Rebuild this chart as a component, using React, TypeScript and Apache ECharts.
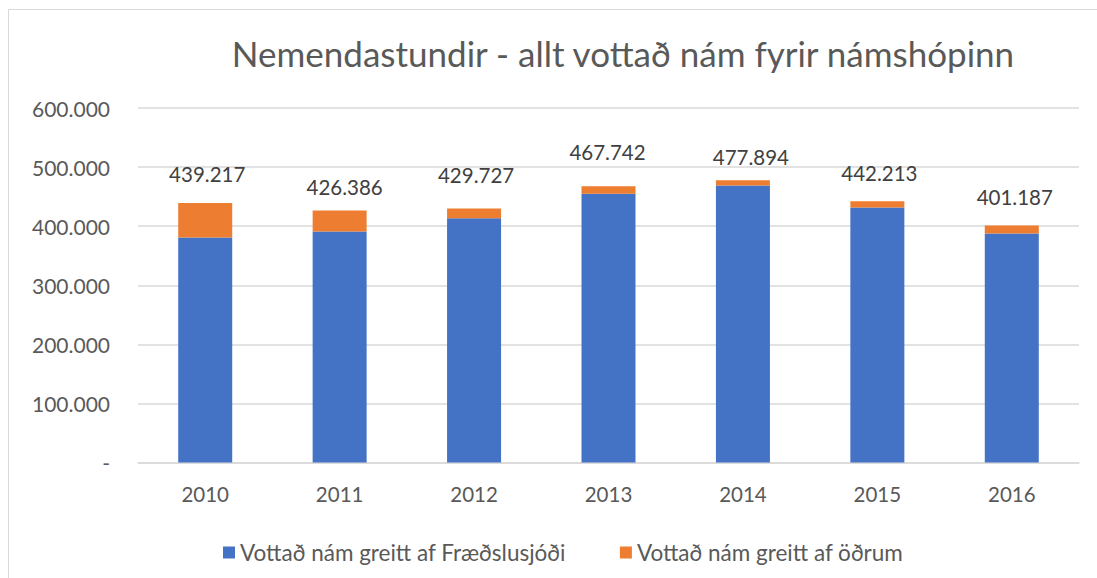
import React, { useEffect, useRef } from "react";
import * as echarts from "echarts";

const years = ["2010", "2011", "2012", "2013", "2014", "2015", "2016"];
const totals = [439217, 426386, 429727, 467742, 477894, 442213, 401187];
const fund = [380700, 390800, 413500, 454700, 468800, 431500, 387500];
const others = totals.map((t, i) => t - fund[i]);
const yTicks = [0, 100000, 200000, 300000, 400000, 500000, 600000];
const seriesNames = ["Vottað nám greitt af Fræðslusjóði", "Vottað nám greitt af öðrum"];
const titleText = "Nemendastundir - allt vottað nám fyrir námshópinn";

// label nudges (layout only)
const labelNudge = [
  [2, -18],
  [5, -13],
  [2, -23],
  [-1, -24],
  [8, -13],
  [2, -18],
  [3, -18],
];

const FONT = "Lato, 'Open Sans', sans-serif";
const TXT = "#595959";

function fmt(v: number): string {
  if (v === 0) return "-";
  return v.toString().replace(/\B(?=(\d{3})+(?!\d))/g, ".");
}

export default function App() {
  const ref = useRef<HTMLDivElement>(null);
  useEffect(() => {
    if (!ref.current) return;
    const chart = echarts.init(ref.current, undefined, { renderer: "svg" });
    chart.setOption({
      animation: false,
      backgroundColor: "#ffffff",
      textStyle: { fontFamily: FONT },
      graphic: [
        {
          type: "rect",
          shape: { x: 8.5, y: 9.5, width: 1200, height: 700 },
          style: { fill: "none", stroke: "#d9d9d9", lineWidth: 1 },
          silent: true,
        },
        {
          type: "text",
          x: 623,
          y: 53,
          style: {
            text: titleText,
            fontFamily: FONT,
            fontSize: 35,
            fill: TXT,
            textAlign: "center",
            textVerticalAlign: "middle",
          },
        },
      ],
      legend: {
        left: 218,
        top: 536,
        itemWidth: 12,
        itemHeight: 12,
        itemGap: 54,
        icon: "rect",
        textStyle: { fontFamily: FONT, fontSize: 22.5, color: TXT, padding: [0, 0, 0, 0] },
        data: seriesNames,
      },
      grid: { left: 138, right: 18, top: 108, bottom: 115.5, containLabel: false },
      xAxis: {
        type: "category",
        data: years,
        axisLine: { show: true, lineStyle: { color: "#d9d9d9", width: 1.5 } },
        axisTick: { show: false },
        axisLabel: { color: TXT, fontSize: 20.5, fontFamily: FONT, margin: 21 },
      },
      yAxis: {
        type: "value",
        min: yTicks[0],
        max: yTicks[yTicks.length - 1],
        interval: 100000,
        axisLine: { show: false },
        axisTick: { show: false },
        splitLine: { lineStyle: { color: "#d9d9d9", width: 1.5 } },
        axisLabel: {
          color: TXT,
          fontSize: 21,
          fontFamily: FONT,
          margin: 28,
          formatter: (v: number) => fmt(v),
        },
      },
      series: [
        {
          name: seriesNames[0],
          type: "bar",
          stack: "total",
          data: fund,
          barWidth: 54,
          itemStyle: { color: "#4472C4" },
        },
        {
          name: seriesNames[1],
          type: "bar",
          stack: "total",
          data: others.map((v, i) => ({
            value: v,
            label: {
              show: true,
              position: "top",
              distance: 0,
              offset: labelNudge[i],
              formatter: () => fmt(totals[i]),
              color: "#404040",
              fontSize: 20.5,
              fontFamily: FONT,
            },
          })),
          barWidth: 54,
          itemStyle: { color: "#ED7D31" },
        },
      ],
    });
    return () => chart.dispose();
  }, []);
  return (
    <div
      ref={ref}
      style={{ position: "fixed", left: 0, top: 0, width: 1097, height: 578 }}
    />
  );
}
